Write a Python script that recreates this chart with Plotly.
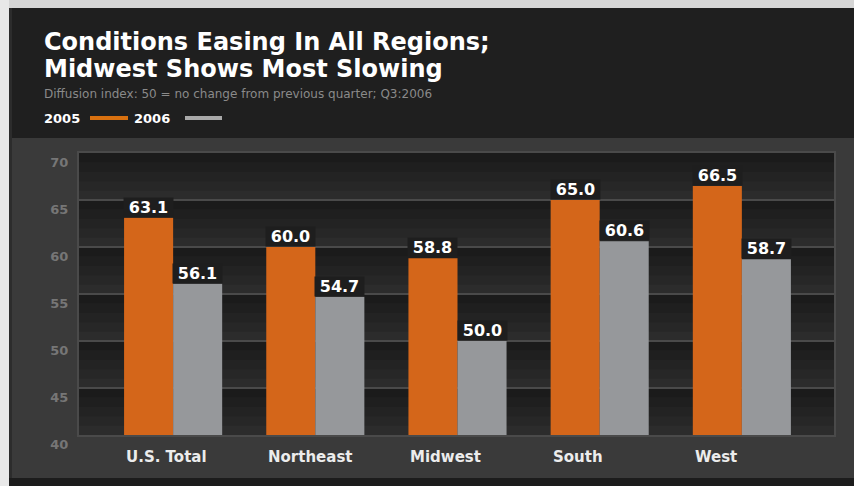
import plotly.graph_objects as go

# ---- data ----
categories = ["U.S. Total", "Northeast", "Midwest", "South", "West"]
values_2005 = [63.1, 60.0, 58.8, 65.0, 66.5]
values_2006 = [56.1, 54.7, 50.0, 60.6, 58.7]
series_names = ["2005", "2006"]
y_ticks = [40, 45, 50, 55, 60, 65, 70]

# ---- geometry / style ----
W, H = 854, 486
L, R, T, B = 79, 834, 153, 435   # plot area in pixels
BARGAP = 0.31
BAR_W = (1 - BARGAP) / 2
ORANGE = "#d4661a"
GRAY = "#96989b"
FONT_B = "DejaVu Sans"

def px(xp):
    return (xp - L) / (R - L)

def py(yp):
    return (B - yp) / (B - T)

xpos = list(range(len(categories)))

fig = go.Figure()
fig.add_trace(go.Bar(x=xpos, y=[v - 40 for v in values_2005], base=40, name=series_names[0],
                     marker=dict(color=ORANGE, line=dict(width=0)), hoverinfo="skip"))
fig.add_trace(go.Bar(x=xpos, y=[v - 40 for v in values_2006], base=40, name=series_names[1],
                     marker=dict(color=GRAY, line=dict(width=0)), hoverinfo="skip"))

shapes = []
# background bands with a vertical dark-to-light shading
steps = 5
for lo, hi in zip(y_ticks[:-1], y_ticks[1:]):
    for k in range(steps):
        y1 = hi - (hi - lo) * k / steps
        y0 = hi - (hi - lo) * (k + 1) / steps
        c = int(0x1b + (0x2c - 0x1b) * k / (steps - 1))
        shapes.append(dict(type="rect", xref="paper", yref="y", x0=0, x1=1, y0=y0, y1=y1,
                           fillcolor=f"rgb({c},{c},{c})", line=dict(width=0), layer="below"))

# frame pieces (paper coords from pixel positions)
def rect(x0, y0, x1, y1, color):
    shapes.append(dict(type="rect", xref="paper", yref="paper",
                       x0=px(x0), x1=px(x1), y0=py(y1), y1=py(y0),
                       fillcolor=color, line=dict(width=0), layer="below"))

rect(10, 8, 854, 138, "#1f1f1f")      # header
rect(0, 0, 854, 8, "#d6d6d6")          # top light strip
rect(0, 0, 9, 486, "#e8e8e8")          # left light strip
rect(9, 8, 12, 486, "#2c2c2c")         # thin dark edge
rect(9, 478, 854, 486, "#1c1c1c")      # bottom dark strip

# legend lines
shapes.append(dict(type="line", xref="paper", yref="paper", x0=px(90), x1=px(128), y0=py(118), y1=py(118),
                   line=dict(color="#d8700f", width=4)))
shapes.append(dict(type="line", xref="paper", yref="paper", x0=px(185), x1=px(222), y0=py(118), y1=py(118),
                   line=dict(color="#a9a9a9", width=4)))

annotations = []
# title / subtitle
annotations.append(dict(text="Conditions Easing In All Regions;", xref="paper", yref="paper",
                        x=px(42), y=py(42), xanchor="left", yanchor="middle", showarrow=False,
                        font=dict(family=FONT_B, size=24, color="white", weight="bold")))
annotations.append(dict(text="Midwest Shows Most Slowing", xref="paper", yref="paper",
                        x=px(42), y=py(69), xanchor="left", yanchor="middle", showarrow=False,
                        font=dict(family=FONT_B, size=24, color="white", weight="bold")))
annotations.append(dict(text="Diffusion index: 50 = no change from previous quarter; Q3:2006",
                        xref="paper", yref="paper", x=px(42), y=py(94), xanchor="left", yanchor="middle",
                        showarrow=False, font=dict(family=FONT_B, size=12, color="#8a8a8a")))
annotations.append(dict(text=series_names[0], xref="paper", yref="paper", x=px(42), y=py(118),
                        xanchor="left", yanchor="middle", showarrow=False,
                        font=dict(family=FONT_B, size=13, color="white", weight="bold")))
annotations.append(dict(text=series_names[1], xref="paper", yref="paper", x=px(132), y=py(118),
                        xanchor="left", yanchor="middle", showarrow=False,
                        font=dict(family=FONT_B, size=13, color="white", weight="bold")))

# value labels with dark boxes
for i in xpos:
    for vals, off in ((values_2005, -BAR_W / 2), (values_2006, BAR_W / 2)):
        annotations.append(dict(text=f"{vals[i]:.1f}", x=i + off, y=vals[i], xref="x", yref="y",
                                xanchor="center", yanchor="bottom", showarrow=False,
                                width=49, height=19, bgcolor="#1e1e1e", borderpad=0,
                                font=dict(family=FONT_B, size=16, color="white", weight="bold")))
    # category labels, left-aligned to group
    annotations.append(dict(text=categories[i], x=i - BAR_W, y=0, xref="x", yref="paper",
                            xanchor="left", yanchor="middle", yshift=-22, showarrow=False,
                            font=dict(family=FONT_B, size=15, color="#ececec", weight="bold")))

fig.update_layout(
    width=W, height=H,
    margin=dict(l=L, r=W - R, t=T, b=H - B, pad=0),
    paper_bgcolor="#3a3a3a", plot_bgcolor="#222222",
    barmode="group", bargap=BARGAP, bargroupgap=0,
    showlegend=False, hovermode=False,
    shapes=shapes, annotations=annotations,
    xaxis=dict(range=[-0.662, 4.648], showticklabels=False, showgrid=False, zeroline=False,
               showline=True, linecolor="#4a4a4a", linewidth=2, mirror=True, ticks=""),
    yaxis=dict(range=[40, 70], tickvals=y_ticks, showgrid=True, gridcolor="#4a4a4a", gridwidth=2,
               zeroline=False, showline=True, linecolor="#4a4a4a", linewidth=2, mirror=True,
               ticks="", ticklabelstandoff=6, ticklabelshift=9,
               tickfont=dict(family=FONT_B, size=13, color="#767676", weight="bold")),
)

fig.write_html("out.html", config={"displayModeBar": False},
               post_script="document.body.style.margin='0';document.body.style.padding='0';")
